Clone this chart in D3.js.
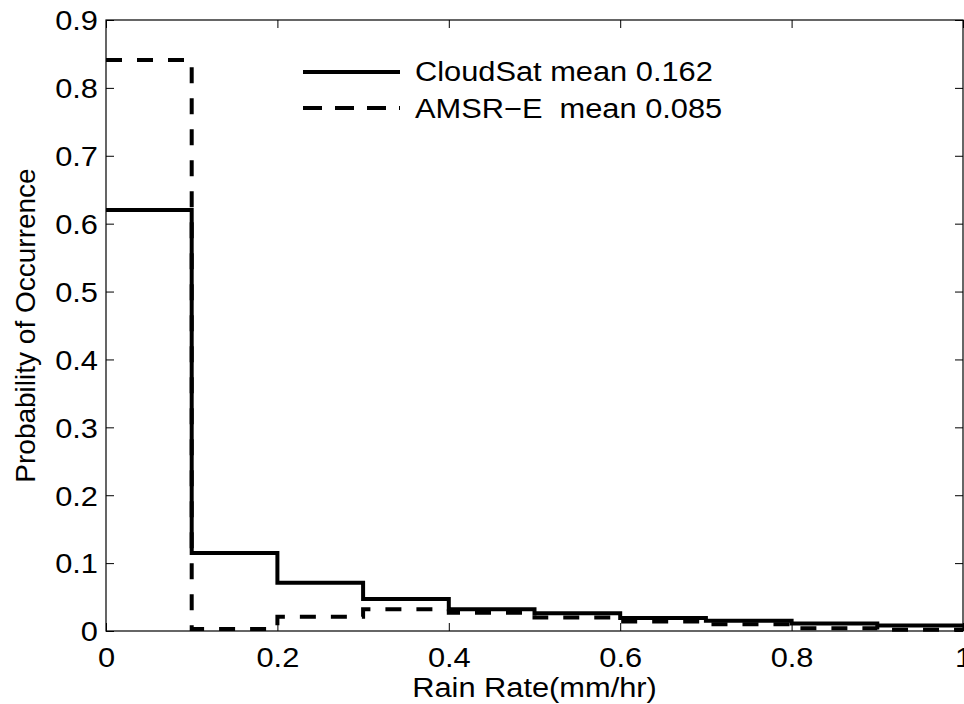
<!DOCTYPE html>
<html>
<head>
<meta charset="utf-8">
<script src="https://cdn.jsdelivr.net/npm/d3@7/dist/d3.min.js"></script>
<style>
  html, body { margin: 0; padding: 0; background: #fff; }
  svg { display: block; }
  text { font-family: "Liberation Sans", Arial, Helvetica, sans-serif; fill: #000; }
</style>
</head>
<body>
<svg id="chart" width="964" height="704"></svg>
<script>
// ---- data ----
const binEdges = [0, 0.1, 0.2, 0.3, 0.4, 0.5, 0.6, 0.7, 0.8, 0.9, 1.0];
const cloudsat = [0.620, 0.115, 0.071, 0.047, 0.032, 0.026, 0.019, 0.015, 0.011, 0.008];
const amsre    = [0.841, 0.003, 0.021, 0.032, 0.027, 0.020, 0.014, 0.010, 0.004, 0.002];
const seriesNames = ["CloudSat mean 0.162", "AMSR\u2212E  mean 0.085"];
const xTicks = [0, 0.2, 0.4, 0.6, 0.8, 1];
const yTicks = [0, 0.1, 0.2, 0.3, 0.4, 0.5, 0.6, 0.7, 0.8, 0.9];
const xLabel = "Rain Rate(mm/hr)";
const yLabel = "Probability of Occurrence";

// ---- layout ----
const L = 106, R = 963, T = 20, B = 631;
const svg = d3.select("#chart");
const x = d3.scaleLinear().domain([0, 1]).range([L, R]);
const y = d3.scaleLinear().domain([0, 0.9]).range([B, T]);
const fs = 28, sx = 1.1;
const tickLen = 8;

const fmt = d => d === 0 ? "0" : (d === 1 ? "1" : d3.format(".1f")(d));

// axes
const gx = svg.append("g").attr("transform", `translate(0,${B})`)
  .call(d3.axisBottom(x).tickValues(xTicks).tickSize(-tickLen).tickPadding(0).tickFormat(fmt));
const gxt = svg.append("g").attr("transform", `translate(0,${T})`)
  .call(d3.axisTop(x).tickValues(xTicks).tickSize(-tickLen).tickFormat(""));
const gy = svg.append("g").attr("transform", `translate(${L},0)`)
  .call(d3.axisLeft(y).tickValues(yTicks).tickSize(-tickLen).tickPadding(0).tickFormat(fmt));
const gyr = svg.append("g").attr("transform", `translate(${R},0)`)
  .call(d3.axisRight(y).tickValues(yTicks).tickSize(-tickLen).tickFormat(""));

[gx, gxt, gy, gyr].forEach(g => {
  g.selectAll("path.domain").remove();
  g.selectAll("line").attr("stroke", "#000").attr("stroke-width", 1);
});
gx.selectAll("text").attr("font-size", fs).attr("y", 0).attr("dy", 0)
  .attr("transform", `translate(0,36) scale(${sx},1)`);
gy.selectAll("text").attr("font-size", fs).attr("x", 0).attr("dy", "0.35em")
  .attr("transform", `translate(-8,0) scale(${sx},1)`);

// frame
svg.append("rect").attr("x", L).attr("y", T).attr("width", R - L).attr("height", B - T)
  .attr("fill", "none").attr("stroke", "#000").attr("stroke-width", 1.2);

// axis labels
svg.append("text").attr("font-size", fs)
  .attr("transform", `translate(${(L + R) / 2},697) scale(${sx},1)`)
  .attr("text-anchor", "middle").text(xLabel);
svg.append("text").attr("font-size", fs)
  .attr("transform", `translate(35,${(T + B) / 2}) rotate(-90)`)
  .attr("text-anchor", "middle").text(yLabel);

// step lines
const toPts = vals => binEdges.map((e, i) => [e, vals[Math.min(i, vals.length - 1)]]);
const line = d3.line().x(d => x(d[0])).y(d => y(d[1])).curve(d3.curveStepAfter);

svg.append("path").attr("d", line(toPts(cloudsat)))
  .attr("fill", "none").attr("stroke", "#000").attr("stroke-width", 4);
svg.append("path").attr("d", line(toPts(amsre)))
  .attr("fill", "none").attr("stroke", "#000").attr("stroke-width", 4)
  .attr("stroke-dasharray", "16,15");

// legend
const lg = svg.append("g");
const lx0 = 303, lx1 = 400;
lg.append("line").attr("x1", lx0).attr("x2", lx1).attr("y1", 72).attr("y2", 72)
  .attr("stroke", "#000").attr("stroke-width", 4);
lg.append("line").attr("x1", lx0).attr("x2", lx1).attr("y1", 108).attr("y2", 108)
  .attr("stroke", "#000").attr("stroke-width", 4).attr("stroke-dasharray", "19,13");
lg.append("text").attr("font-size", fs).style("white-space", "pre")
  .attr("transform", `translate(415,81) scale(${sx},1)`).text(seriesNames[0]);
lg.append("text").attr("font-size", fs).style("white-space", "pre")
  .attr("transform", `translate(415,118) scale(${sx},1)`).text(seriesNames[1]);
</script>
</body>
</html>
